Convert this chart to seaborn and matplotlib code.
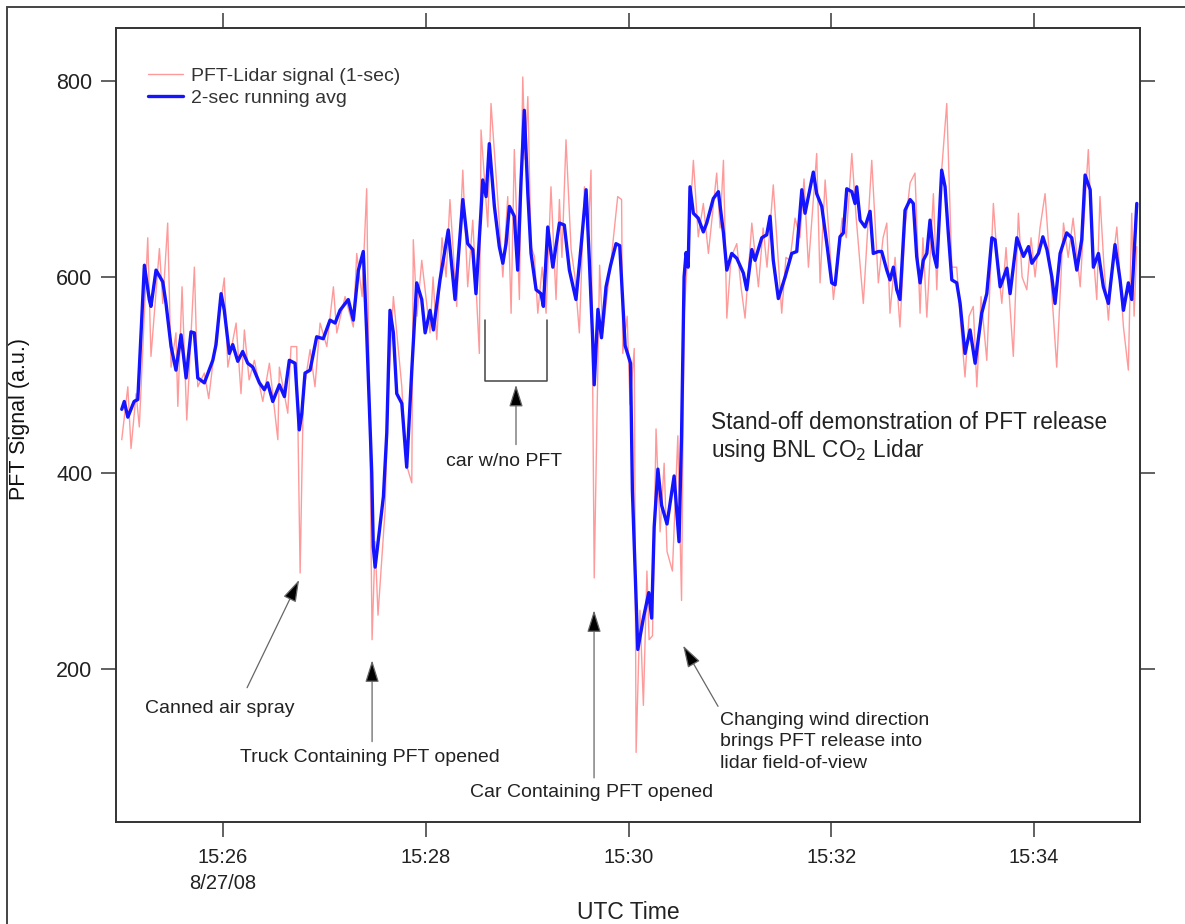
import matplotlib
matplotlib.use('Agg')
import matplotlib.pyplot as plt
from matplotlib.lines import Line2D
import pandas as pd
import seaborn as sns

# seconds after 15:25:00 UTC, 8/27/08
red_t = [0, 3.6, 5.5, 8.5, 10.4, 15.4, 17.3, 22.3, 24.3, 27.2, 29.2, 32.1, 33.2, 35.7, 38.5,
         43.0, 45.0, 48.9, 51.5, 55.8, 60.7, 62.8, 67.7, 70.6, 72.6, 75.4, 78.5, 83.5, 87.4,
         92.4, 93.3, 98.3, 100.2, 103.6, 105.6, 107.5, 111.5, 114.4, 117.4, 121.4, 125.3,
         127.3, 132.2, 137.1, 139.1, 142.3, 145.0, 147.0, 148.2, 150.0, 151.7, 155.9, 157.7,
         160.8, 165.8, 168.3, 171.7, 172.6, 174.8, 177.6, 182.5, 184.3, 186.5, 189.6, 192.0,
         194.3, 198.3, 201.9, 204.8, 207.8, 211.7, 212.7, 216.7, 218.6, 222.6, 225.6, 228.5,
         230.5, 232.4, 235.4, 237.4, 238.8, 240.4, 242.3, 244.3, 246.3, 248.9, 251.2, 254.1,
         257.1, 259.1, 260.6, 263.0, 266.0, 268.3, 270.9, 273.9, 276.1, 277.8, 279.7, 282.9,
         284.8, 289.7, 293.6, 295.9, 296.6, 299.2, 300.9, 303.4, 304.5, 306.8, 308.8, 310.9,
         312.2, 314.2, 316.3, 318.7, 321.1, 322.8, 326.0, 329.2, 331.4, 332.9, 335.7, 338.4,
         341.3, 344.3, 347.3, 352.2, 354.2, 356.2, 358.2, 360.7, 364.1, 366.6, 369.0, 373.0,
         376.9, 379.7, 382.0, 385.7, 390.7, 393.2, 395.6, 398.6, 401.5, 403.9, 406.5, 411.4,
         413.4, 416.4, 421.3, 424.1, 426.5, 428.9, 432.2, 434.8, 439.0, 444.0, 447.9, 450.7,
         452.9, 454.8, 457.8, 460.7, 463.7, 466.7, 469.6, 472.6, 474.3, 476.6, 480.5, 482.5,
         485.0, 488.4, 491.4, 494.3, 496.3, 499.2, 501.6, 504.1, 506.2, 508.7, 512.1, 516.0,
         518.2, 521.0, 523.5, 527.8, 530.8, 533.0, 535.8, 538.3, 540.7, 543.6, 546.6, 549.6,
         553.5, 557.5, 560.3, 563.2, 567.4, 569.7, 572.2, 574.4, 577.2, 579.1, 581.5, 584.1,
         586.3, 589.1, 591.0, 593.0, 595.9, 597.9, 599.3, 600.9]
red_v = [434, 488, 425, 481, 447, 640, 519, 629, 573, 655, 508, 543, 468, 590, 454,
         610, 488, 502, 476, 539, 599, 508, 553, 481, 546, 495, 515, 473, 512,
         434, 508, 461, 529, 529, 298, 481, 526, 488, 553, 529, 590,
         543, 580, 549, 624, 580, 690, 420, 230, 330, 255, 362, 480,
         580, 488, 410, 390, 638, 560, 617, 543, 600, 536, 640, 600,
         679, 570, 709, 590, 658, 522, 750, 651, 777, 679, 600, 682,
         563, 730, 577, 804, 720, 784, 631, 621, 563, 610, 563, 692,
         577, 679, 620, 740, 628, 600, 543, 692, 640, 709, 293, 612,
         543, 617, 682, 679, 522, 560, 470, 527, 115, 260, 163, 300,
         230, 234, 445, 340, 410, 320, 300, 438, 270, 560, 642, 719,
         641, 675, 624, 706, 650, 719, 558, 620, 634, 590, 558, 655,
         590, 650, 610, 694, 563, 620, 617, 660, 640, 700, 610, 726,
         594, 699, 577, 620, 660, 640, 726, 660, 573, 719, 594, 640,
         655, 563, 620, 549, 650, 696, 706, 563, 640, 559, 685, 587,
         700, 777, 610, 610, 560, 498, 560, 570, 488, 580, 515, 675,
         620, 573, 630, 519, 665, 600, 587, 640, 600, 650, 685, 610,
         508, 655, 620, 660, 590, 660, 730, 640, 577, 682, 610, 556,
         610, 651, 600, 549, 505, 665, 560, 631]

blue_t = [0, 1.5, 3.6, 7.3, 9.5, 13.4, 16.3, 17.3, 20.3, 24.3, 26.2, 29.2, 32.1, 35.1, 38.1,
          41.0, 43.0, 45.0, 48.9, 53.9, 55.8, 58.8, 60.7, 63.7, 65.7, 68.7, 71.6, 74.6, 77.6,
          81.5, 84.4, 86.4, 89.4, 93.3, 96.3, 99.2, 102.6, 105.1, 106.6, 108.5, 111.5, 115.4,
          119.3, 123.3, 126.3, 129.2, 134.1, 137.1, 140.1, 143.0, 145.0, 148.0, 148.9, 150.0,
          151.9, 154.9, 156.9, 158.8, 160.8, 162.8, 165.8, 168.7, 171.7, 174.6, 177.6, 179.6,
          182.5, 184.5, 188.4, 193.3, 197.3, 201.9, 204.8, 207.8, 209.7, 212.7, 213.7, 215.7,
          217.6, 220.6, 223.5, 225.6, 227.5, 229.5, 232.4, 234.4, 236.4, 238.3, 240.4, 242.3,
          245.3, 248.2, 249.6, 252.2, 255.2, 259.1, 262.0, 265.0, 268.9, 271.9, 274.9, 276.8,
          278.7, 279.7, 281.9, 284.0, 286.7, 289.4, 292.6, 294.8, 298.0, 301.2, 302.3, 304.5,
          305.5, 308.8, 312.0, 313.7, 315.2, 317.4, 319.6, 322.8, 327.0, 329.9, 331.4, 332.9,
          334.1, 335.3, 336.4, 338.4, 341.3, 344.3, 346.3, 350.2, 353.2, 356.2, 358.2, 361.1,
          364.1, 368.0, 370.0, 373.0, 374.9, 378.9, 381.8, 383.8, 385.7, 388.7, 392.7, 396.6,
          399.6, 402.6, 404.5, 406.5, 409.4, 411.4, 414.4, 417.4, 420.3, 422.3, 425.2, 427.2,
          429.2, 432.2, 434.1, 435.1, 437.1, 440.0, 443.0, 444.9, 447.9, 449.9, 452.9, 454.8,
          456.8, 458.8, 460.7, 463.7, 466.7, 468.6, 470.6, 472.6, 474.5, 476.6, 478.5, 480.5,
          482.5, 485.4, 487.4, 489.3, 491.4, 494.3, 496.3, 499.2, 502.2, 505.2, 509.1, 512.1,
          515.1, 517.0, 520.0, 524.0, 525.9, 529.9, 533.8, 536.8, 538.8, 542.7, 545.3, 547.7,
          550.6, 552.5, 555.5, 559.4, 562.4, 565.4, 568.3, 570.3, 573.3, 575.2, 578.2, 581.1,
          584.1, 588.0, 591.0, 593.0, 595.9, 597.9, 598.9, 600.9]
blue_v = [465, 473, 457, 473, 475, 612, 577, 570, 607, 595, 573, 529, 505, 541, 497,
          544, 543, 497, 492, 515, 531, 583, 566, 522, 531, 514, 524, 512, 508,
          492, 485, 492, 473, 490, 478, 515, 512, 444, 461, 502, 505, 539,
          537, 556, 553, 566, 577, 556, 607, 626, 543, 400, 325, 304,
          332, 376, 441, 566, 543, 481, 471, 406, 505, 594, 577, 543,
          566, 546, 597, 648, 577, 679, 634, 628, 583, 668, 699, 682,
          736, 672, 631, 614, 634, 672, 662, 607, 699, 770, 685, 624,
          587, 583, 570, 651, 610, 655, 653, 607, 577, 631, 689, 617,
          540, 490, 567, 538, 590, 612, 634, 632, 530, 512, 382, 270,
          220, 252, 278, 252, 345, 404, 367, 348, 397, 330, 438, 600,
          625, 610, 692, 665, 660, 646, 655, 680, 687, 645, 607, 624,
          619, 604, 587, 628, 617, 640, 643, 662, 617, 578, 600, 624,
          626, 689, 665, 682, 707, 685, 672, 634, 594, 592, 641, 645,
          690, 687, 675, 692, 658, 651, 667, 624, 626, 626, 607, 597,
          610, 587, 577, 668, 679, 675, 621, 594, 617, 624, 658, 624,
          610, 709, 692, 645, 597, 594, 573, 522, 546, 512, 563, 583,
          640, 638, 590, 609, 583, 640, 621, 631, 614, 624, 641, 628,
          600, 573, 624, 645, 640, 607, 638, 704, 689, 610, 624, 590,
          573, 633, 597, 566, 594, 577, 610, 675]

tick_secs = [60, 180, 300, 420, 540]
tick_labels = ['15:26\n8/27/08', '15:28', '15:30', '15:32', '15:34']
y_ticks = [200, 400, 600, 800]

df_red = pd.DataFrame({'t': red_t, 'signal': red_v})
df_blue = pd.DataFrame({'t': blue_t, 'signal': blue_v})

sns.set_theme(style='ticks')
plt.rcParams['font.family'] = ['Liberation Sans', 'DejaVu Sans']

fig = plt.figure(figsize=(11.85, 9.24), dpi=100)
ax = fig.add_axes([116 / 1185, 1 - 822 / 924, 1024 / 1185, 794 / 924])

sns.lineplot(data=df_red, x='t', y='signal', ax=ax, color='#ff9a9a', linewidth=1.0,
             estimator=None, sort=False, label='PFT-Lidar signal (1-sec)')
sns.lineplot(data=df_blue, x='t', y='signal', ax=ax, color='#1414ff', linewidth=2.4,
             estimator=None, sort=False, label='2-sec running avg')

ax.set_xlim(-3.4, 602.8)
ax.set_ylim(44, 854)

ink = '#333333'
ax.set_xticks(tick_secs)
ax.set_xticklabels(tick_labels, fontsize=14.5, color='#222222', linespacing=1.45)
ax.set_yticks(y_ticks)
ax.set_yticklabels([str(v) for v in y_ticks], fontsize=15.5, color='#222222')
ax.tick_params(axis='both', direction='out', length=11, width=1.3, color='#555555')
ax.tick_params(axis='x', pad=8)
ax.tick_params(axis='y', pad=6)
ax.tick_params(top=True, right=True, labeltop=False, labelright=False)
for s in ax.spines.values():
    s.set_visible(True)
    s.set_color(ink)
    s.set_linewidth(1.4)

ax.set_xlabel('UTC Time', fontsize=16.5, color='#222222')
ax.xaxis.set_label_coords(0.5, -0.1)
ax.set_ylabel('PFT Signal (a.u.)', fontsize=15.5, color='#111111')
ax.yaxis.set_label_coords(-0.084, 0.508)

leg = ax.legend(loc='upper left', bbox_to_anchor=(0.024, 0.96), frameon=False,
                fontsize=14, handlelength=1.8, handletextpad=0.4, labelspacing=0.2,
                borderaxespad=0)
for txt in leg.get_texts():
    txt.set_color('#333333')

# annotations
arrow_kw = dict(arrowstyle='-|>,head_length=0.8,head_width=0.25', mutation_scale=17,
                fc='black', ec='#666666', lw=0.9, shrinkA=0, shrinkB=0)
note_color = '#222222'
note_size = 14

ax.annotate('', xy=(105, 291), xytext=(74.2, 181), arrowprops=arrow_kw)
ax.text(13.8, 160, 'Canned air spray', fontsize=note_size, color=note_color, va='center')

ax.annotate('', xy=(148.2, 209), xytext=(148.2, 126), arrowprops=arrow_kw)
ax.text(147, 110, 'Truck Containing PFT opened', fontsize=note_size, color=note_color,
        ha='center', va='center')

ax.plot([215.1, 215.1, 251.8, 251.8], [556, 494, 494, 556], color='#444444', lw=1.1)
ax.annotate('', xy=(233.4, 490), xytext=(233.4, 429), arrowprops=arrow_kw)
ax.text(226.4, 412, 'car w/no PFT', fontsize=note_size, color=note_color,
        ha='center', va='center')

ax.annotate('', xy=(279.6, 260), xytext=(279.6, 89), arrowprops=arrow_kw)
ax.text(278.4, 74.5, 'Car Containing PFT opened', fontsize=note_size, color=note_color,
        ha='center', va='center')

ax.annotate('', xy=(332.3, 224), xytext=(353, 162), arrowprops=arrow_kw)
ax.text(354.2, 156, 'Changing wind direction\nbrings PFT release into\nlidar field-of-view',
        fontsize=note_size, color=note_color, va='top', linespacing=1.32)

ax.text(348.8, 463, 'Stand-off demonstration of PFT release\nusing BNL CO$_2$ Lidar',
        fontsize=16.3, color=note_color, va='top', linespacing=1.15)

# outer frame of the original figure
fig.add_artist(Line2D([7 / 1185, 7 / 1185], [0, 1 - 7 / 924], transform=fig.transFigure,
                      color='#444444', lw=1.4))
fig.add_artist(Line2D([7 / 1185, 1], [1 - 7 / 924, 1 - 7 / 924], transform=fig.transFigure,
                      color='#444444', lw=1.4))

fig.savefig('out.png', dpi=100)
